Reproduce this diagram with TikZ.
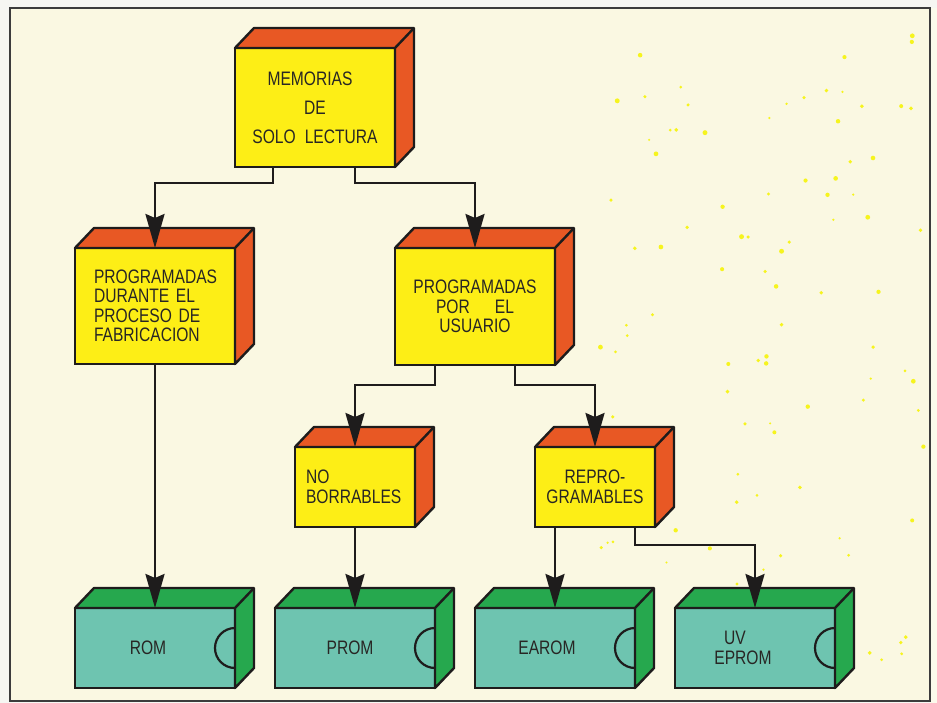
\documentclass[tikz,border=0pt]{standalone}
\usepackage{fontspec}
\setmainfont{Liberation Sans}[FakeStretch=0.80]
\usetikzlibrary{arrows.meta}
\definecolor{paper}{RGB}{250,248,226}
\definecolor{outside}{RGB}{246,246,242}
\definecolor{yel}{RGB}{253,238,22}
\definecolor{org}{RGB}{232,88,36}
\definecolor{grn}{RGB}{38,168,78}
\definecolor{teal}{RGB}{110,196,176}
\definecolor{ink}{RGB}{30,28,28}
\definecolor{txt}{RGB}{40,38,36}
\definecolor{dotc}{RGB}{246,244,30}
\definecolor{framec}{RGB}{60,60,60}
\newcommand\boxfaces[2]{%
  \filldraw[fill=#2, draw=ink, line width=2.4pt, line join=round]
    (#1.north west) -- ([xshift=19pt,yshift=20pt]#1.north west)
    -- ([xshift=19pt,yshift=20pt]#1.north east)
    -- ([xshift=19pt,yshift=20pt]#1.south east)
    -- (#1.south east) -- (#1.north east) -- cycle;
  \draw[ink, line width=2.4pt, line join=round]
    (#1.north east) -- ([xshift=19pt,yshift=20pt]#1.north east);
}
\begin{document}
\begin{tikzpicture}[x=1pt,y=-1pt,
  front/.style={draw=ink, line width=2.4pt, anchor=north west, inner sep=0pt,
    outer sep=0pt, text=txt, font=\fontsize{19.5}{19.5}\selectfont},
  ybox/.style={front, fill=yel, minimum width=160pt},
  sbox/.style={front, fill=yel, minimum width=120pt, minimum height=80pt},
  gbox/.style={front, fill=teal, minimum width=160pt, minimum height=80pt, align=center},
  conn/.style={draw=ink, line width=2.6pt, -{Stealth[length=34pt,width=19pt,inset=4pt]}},
  notch/.style={draw=ink, line width=2.2pt}
]
\useasboundingbox (0,0) rectangle (937,703);
\fill[outside] (0,0) rectangle (937,703);
\fill[paper] (10,8) rectangle (930,701);
\fill[paper!70!white] (930,8) rectangle (937,703);
% speckles
\pgfmathsetseed{12345}
\foreach \i in {1,...,100}{%
  \pgfmathsetmacro\dx{590+335*rnd}%
  \pgfmathsetmacro\dy{15+650*rnd}%
  \pgfmathsetmacro\rr{1.2+1.3*rnd}%
  \fill[dotc] (\dx,\dy) circle[radius=\rr pt];
}
\draw[framec, line width=2pt] (10,8) rectangle (930,701);

% boxes
\node[ybox, minimum height=119pt, align=center] (mem) at (235,48)
  {MEMORIAS\hspace*{10pt}\\[9.5pt]DE\\[9.5pt]SOLO\hspace{9pt}LECTURA};
\boxfaces{mem}{org}
\node[ybox, minimum height=116pt, text width=122pt, align=left] (fab) at (75,248)
  {PROGRAMADAS\\\makebox[120pt][s]{DURANTE EL}\\\makebox[120pt][s]{PROCESO DE}\\FABRICACION};
\boxfaces{fab}{org}
\node[ybox, minimum height=117pt, align=center] (usu) at (395,248)
  {PROGRAMADAS\\POR\hspace{25pt}EL\\USUARIO};
\boxfaces{usu}{org}
\node[sbox, text width=98pt, align=left] (nob) at (295,447) {NO\\BORRABLES};
\boxfaces{nob}{org}
\node[sbox, align=center] (rep) at (535,447) {REPRO-\\GRAMABLES};
\boxfaces{rep}{org}

\node[gbox] (rom) at (75,608) {ROM\hspace*{14pt}};
\boxfaces{rom}{grn}
\node[gbox] (prom) at (275,608) {PROM\hspace*{10pt}};
\boxfaces{prom}{grn}
\node[gbox] (earom) at (475,608) {EAROM\hspace*{16pt}};
\boxfaces{earom}{grn}
\node[gbox] (uv) at (675,608) {UV\hspace*{40pt}\\EPROM\hspace*{24pt}};
\boxfaces{uv}{grn}
\foreach \n in {rom,prom,earom,uv}{%
  \draw[notch] ([yshift=20pt]\n.east) arc[start angle=90, end angle=270, radius=20pt];
}

% connectors
\draw[conn] ([xshift=-42pt]mem.south) -- ++(0,16) -| (fab.north);
\draw[conn] ([xshift=40pt]mem.south) -- ++(0,16) -| (usu.north);
\draw[conn] (fab.south) -- (rom.north);
\draw[conn] ([xshift=-40pt]usu.south) -- ++(0,20) -| (nob.north);
\draw[conn] ([xshift=40pt]usu.south) -- ++(0,20) -| (rep.north);
\draw[conn] (nob.south) -- (prom.north);
\draw[conn] ([xshift=-40pt]rep.south) -- (earom.north);
\draw[conn] ([xshift=40pt]rep.south) -- ++(0,18) -| (uv.north);
\end{tikzpicture}
\end{document}
